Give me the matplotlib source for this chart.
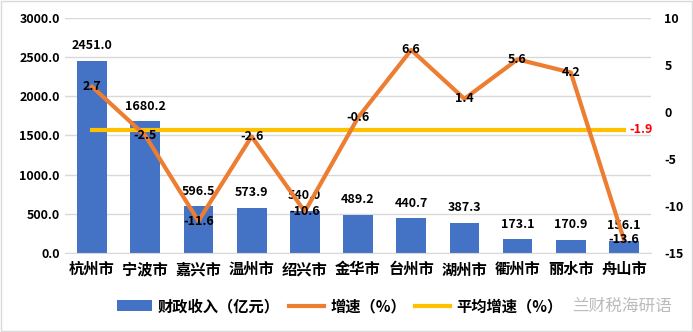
import numpy as np
import matplotlib.pyplot as plt
from matplotlib.patches import Rectangle

plt.rcParams['font.family'] = ['Noto Sans CJK SC', 'DejaVu Sans']

cities = ['杭州市', '宁波市', '嘉兴市', '温州市', '绍兴市', '金华市',
          '台州市', '湖州市', '衢州市', '丽水市', '舟山市']
revenue = [2451.0, 1680.2, 596.5, 573.9, 540.0, 489.2, 440.7, 387.3, 173.1, 170.9, 156.1]
growth = [2.7, -2.5, -11.6, -2.6, -10.6, -0.6, 6.6, 1.4, 5.6, 4.2, -13.6]
avgGrowth = -1.9

blue = '#4472C4'
orange = '#ED7D31'
yellow = '#FFC000'

fig = plt.figure(figsize=(6.93, 3.32), dpi=100)
fig.patches.append(Rectangle((0.002, 0.003), 0.996, 0.994, transform=fig.transFigure,
                             fill=False, edgecolor='#D9D9D9', linewidth=1))
ax = fig.add_axes([0.0944, 0.238, 0.8444, 0.7078])
x = np.arange(len(cities))

bars = ax.bar(x, revenue, width=0.56, color=blue, zorder=2)
ax.set_ylim(0, 3000)
ax.set_yticks(np.arange(0, 3001, 500))
ax.set_yticklabels(['%.1f' % v for v in np.arange(0, 3001, 500)], fontsize=9, fontweight='bold')
ax.set_xlim(-0.5, len(cities) - 0.5)
ax.set_xticks(x)
ax.set_xticklabels(cities, fontsize=11, fontweight='bold')
ax.grid(axis='y', color='#D9D9D9', linewidth=1, zorder=0)
for s in ['top', 'left', 'right']:
    ax.spines[s].set_visible(False)
ax.spines['bottom'].set_color('#D9D9D9')
ax.tick_params(axis='both', length=0, pad=4)
ax.tick_params(axis='x', pad=6)

for xi, v in zip(x, revenue):
    ax.text(xi, v + 110, '%.1f' % v, ha='center', va='bottom', fontsize=9, fontweight='bold')

ax2 = ax.twinx()
ax2.set_ylim(-15, 10)
ax2.set_yticks(np.arange(-15, 11, 5))
ax2.set_yticklabels([str(v) for v in np.arange(-15, 11, 5)], fontsize=9, fontweight='bold')
for s in ['top', 'left', 'right', 'bottom']:
    ax2.spines[s].set_visible(False)
ax2.tick_params(axis='y', length=0, pad=10)

avgLine, = ax2.plot(x, [avgGrowth] * len(x), color=yellow, linewidth=3, zorder=3)
growthLine, = ax2.plot(x, growth, color=orange, linewidth=3, zorder=4)
for xi, g in zip(x, growth):
    ax2.text(xi, g, '%.1f' % g, ha='center', va='center', fontsize=9, fontweight='bold', zorder=5)
ax2.text(x[-1] + 0.1, avgGrowth, '%.1f' % avgGrowth, ha='left', va='center',
         fontsize=9, fontweight='bold', color='red')

fig.legend([bars, growthLine, avgLine], ['财政收入（亿元）', '增速（%）', '平均增速（%）'],
           loc='center', bbox_to_anchor=(0.49, 0.078), ncol=3, frameon=False,
           prop={'size': 11, 'weight': 'bold'}, handlelength=2.3, handletextpad=0.4,
           columnspacing=0.6)

fig.text(0.97, 0.078, '兰财税海研语', ha='right', va='center', fontsize=12, color='#BBBBBB')

fig.savefig('out.png', dpi=100)
